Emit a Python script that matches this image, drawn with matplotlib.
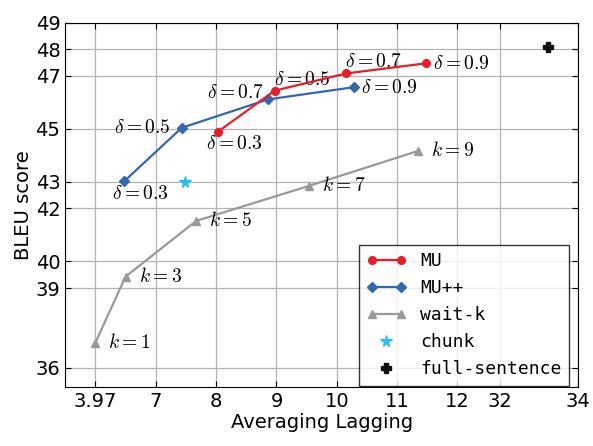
import matplotlib
matplotlib.use("Agg")
from matplotlib import pyplot as plt
from matplotlib.legend_handler import HandlerLine2D

# x positions on a "broken" axis: tick 3.97 sits at 6, 32 at 12.7, 34 at 14
xtick_pos = [6, 7, 8, 9, 10, 11, 12, 12.7, 14]
xtick_labels = ["3.97", "7", "8", "9", "10", "11", "12", "32", "34"]
ytick_vals = [36, 39, 40, 42, 43, 45, 47, 48, 49]

mu_x = [8.03, 8.97, 10.16, 11.48]
mu_y = [44.89, 46.44, 47.09, 47.47]
mu_lbl = ["0.3", "0.5", "0.7", "0.9"]

mupp_x = [6.48, 7.43, 8.86, 10.28]
mupp_y = [43.03, 45.04, 46.11, 46.57]
mupp_lbl = ["0.3", "0.5", "0.7", "0.9"]

waitk_x = [6.0, 6.50, 7.67, 9.54, 11.35]
waitk_y = [36.94, 39.43, 41.53, 42.85, 44.17]
waitk_lbl = ["1", "3", "5", "7", "9"]

chunk_x, chunk_y = [7.49], [43.0]
full_x, full_y = [13.5], [48.07]

plt.rcParams['mathtext.fontset'] = 'cm'
fig = plt.figure(figsize=(5.93, 4.46), dpi=100)
ax = fig.add_axes([0.110, 0.133, 0.865, 0.816])

ax.plot(mu_x, mu_y, '-o', color='#ec1c24', lw=1.6, ms=5.5, label='MU', zorder=4)
ax.plot(mupp_x, mupp_y, '-D', color='#3366b3', lw=1.6, ms=5.5, label='MU++', zorder=3)
ax.plot(waitk_x, waitk_y, '-^', color='#999999', lw=1.6, ms=5.5, label='wait-k', zorder=3)
ch, = ax.plot(chunk_x, chunk_y, '*', color='#2ebdf0', ms=8.5, ls='none', label='chunk')
fu, = ax.plot(full_x, full_y, 'P', color='#111111', ms=6.5, ls='none', label='full-sentence')

fs = 14
px = 0.72  # points per pixel at 100 dpi
mu_off = [(16, -12, 'center'), (28, 11, 'center'), (27, 12, 'center'), (7, 0, 'left')]
for x, y, l, (dx, dy, ha) in zip(mu_x, mu_y, mu_lbl, mu_off):
    ax.annotate(r'$\delta=%s$' % l, (x, y), xytext=(dx * px, dy * px),
                textcoords='offset points', ha=ha, va='center', fontsize=fs)
mupp_off = [(16, -12, 'center'), (-11, 0, 'right'), (-4, 7, 'right'), (7, 0, 'left')]
for x, y, l, (dx, dy, ha) in zip(mupp_x, mupp_y, mupp_lbl, mupp_off):
    ax.annotate(r'$\delta=%s$' % l, (x, y), xytext=(dx * px, dy * px),
                textcoords='offset points', ha=ha, va='center', fontsize=fs)
for x, y, l in zip(waitk_x, waitk_y, waitk_lbl):
    ax.annotate(r'$k=%s$' % l, (x, y), xytext=(13 * px, 0),
                textcoords='offset points', ha='left', va='center', fontsize=fs)

ax.set_xlim(5.5, 14)
ax.set_ylim(35.28, 49)
ax.set_xticks(xtick_pos)
ax.set_xticklabels(xtick_labels)
ax.set_yticks(ytick_vals)
ax.tick_params(direction='in', top=True, right=True, labelsize=14, length=4.5)
ax.grid(True, color='#b3b3b3', lw=0.9)
ax.set_axisbelow(True)
ax.set_xlabel('Averaging Lagging', fontsize=14, labelpad=2)
ax.set_ylabel('BLEU score', fontsize=14, labelpad=2)

# legend box: lower right corner near (569, 385.5) px
leg = ax.legend(loc='lower right', bbox_to_anchor=(569 / 593, 1 - 385.5 / 446),
                bbox_transform=fig.transFigure, borderaxespad=0,
                prop={'family': 'DejaVu Sans Mono', 'size': 13},
                fancybox=False, edgecolor='black', numpoints=2,
                handlelength=2.2, labelspacing=0.5,
                handler_map={ch: HandlerLine2D(numpoints=1),
                             fu: HandlerLine2D(numpoints=1)})
leg.get_frame().set_linewidth(1.0)

fig.savefig('out.png', dpi=100)
